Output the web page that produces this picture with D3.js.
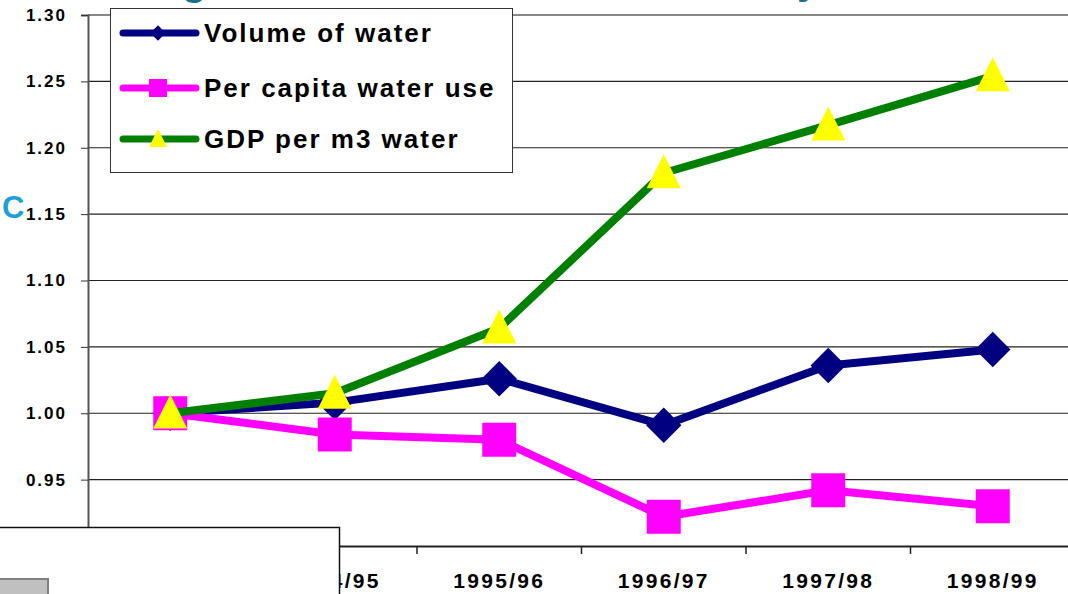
<!DOCTYPE html>
<html>
<head>
<meta charset="utf-8">
<script src="https://cdn.jsdelivr.net/npm/d3@7"></script>
<style>
  html, body { margin: 0; padding: 0; background: #fff; }
  svg { display: block; font-family: Arial, "Liberation Sans", sans-serif; }
</style>
</head>
<body>
<div id="chart"></div>
<script>
// chart data
const years = ['1993/94', '1994/95', '1995/96', '1996/97', '1997/98', '1998/99'];
const volume = [1.000, 1.008, 1.026, 0.991, 1.036, 1.048];
const perCapita = [1.000, 0.984, 0.980, 0.922, 0.942, 0.930];
const gdpPerM3 = [1.000, 1.015, 1.064, 1.181, 1.217, 1.254];
const yTicks = [0.90, 0.95, 1.00, 1.05, 1.10, 1.15, 1.20, 1.25, 1.30];

const series = [
    { name: 'Volume of water', values: volume, line: '#000080', fill: '#000080', shape: 'diamond' },
    { name: 'Per capita water use', values: perCapita, line: '#ff00ff', fill: '#ff00ff', shape: 'square' },
    { name: 'GDP per m3 water', values: gdpPerM3, line: '#008000', fill: '#ffff00', shape: 'triangle' }
];

const width = 1068, height = 594;
const plot = { left: 88, top: 15, right: 1075, bottom: 546 };

const svg = d3.select('#chart').append('svg')
    .attr('width', width)
    .attr('height', height);

const x = d3.scaleBand().domain(years).range([plot.left, plot.right]);
const y = d3.scaleLinear().domain([0.90, 1.30]).range([plot.bottom, plot.top]);

// title fragments cut off at the top of the slide
svg.append('text').attr('x', 182).attr('y', -5)
    .attr('font-size', 40).attr('font-weight', 'bold').attr('fill', '#1a6f8c').text('g');
svg.append('text').attr('x', 797).attr('y', -6)
    .attr('font-size', 40).attr('font-weight', 'bold').attr('fill', '#1a6f8c').text('y');

// gridlines
svg.append('g')
    .selectAll('line')
    .data(yTicks.filter(d => d > 0.90 && d < 1.30))
    .join('line')
    .attr('x1', plot.left).attr('x2', width)
    .attr('y1', d => y(d)).attr('y2', d => y(d))
    .attr('stroke', '#222').attr('stroke-width', 1.2);

// plot border top
svg.append('line')
    .attr('x1', plot.left).attr('x2', width)
    .attr('y1', y(1.30)).attr('y2', y(1.30))
    .attr('stroke', '#888').attr('stroke-width', 2);

// y axis
const yAxis = svg.append('g')
    .attr('transform', `translate(${plot.left},0)`)
    .call(d3.axisLeft(y).tickValues(yTicks).tickFormat(d3.format('.2f')).tickSize(7).tickPadding(14));
yAxis.select('.domain').attr('stroke', '#555').attr('stroke-width', 2);
yAxis.selectAll('.tick line').attr('stroke', '#333');
yAxis.selectAll('.tick text')
    .attr('font-size', 17).attr('font-weight', 'bold').attr('fill', '#000')
    .attr('font-family', 'Arial, "Liberation Sans", sans-serif')
    .attr('letter-spacing', 2);

// x axis
const xAxis = svg.append('g')
    .attr('transform', `translate(0,${plot.bottom})`)
    .call(d3.axisBottom(x).tickSize(0).tickPadding(27));
xAxis.select('.domain').attr('stroke', '#222').attr('stroke-width', 2);
xAxis.selectAll('.tick text')
    .attr('font-size', 21).attr('font-weight', 'bold').attr('fill', '#000')
    .attr('font-family', 'Arial, "Liberation Sans", sans-serif')
    .attr('letter-spacing', 2.3);
svg.append('g')
    .selectAll('line')
    .data(years)
    .join('line')
    .attr('x1', d => x(d)).attr('x2', d => x(d))
    .attr('y1', plot.bottom).attr('y2', plot.bottom + 8)
    .attr('stroke', '#222').attr('stroke-width', 1.5);

const cx = d => x(d) + x.bandwidth() / 2;

function marker(sel, shape, size) {
    if (shape === 'triangle') {
        return sel.attr('d', `M0,${-size * 0.55}L${size / 2},${size * 0.45}L${-size / 2},${size * 0.45}Z`);
    }
    // squares, and diamonds as rotated squares
    return sel.attr('d', `M${-size / 2},${-size / 2}h${size}v${size}h${-size}Z`);
}

// lines and markers
series.forEach(s => {
    const pts = years.map((yr, i) => [cx(yr), y(s.values[i])]);
    svg.append('path')
        .attr('d', d3.line()(pts))
        .attr('fill', 'none')
        .attr('stroke', s.line)
        .attr('stroke-width', 8)
        .attr('stroke-linejoin', 'round');
    svg.append('g')
        .selectAll('path')
        .data(pts)
        .join('path')
        .call(marker, s.shape, s.shape === 'diamond' ? 25 : 34)
        .attr('transform', d => `translate(${d[0]},${d[1]})` + (s.shape === 'diamond' ? ' rotate(45)' : ''))
        .attr('fill', s.fill);
});

// legend
const legend = svg.append('g');
legend.append('rect')
    .attr('x', 110.5).attr('y', 8.5).attr('width', 402).attr('height', 164)
    .attr('fill', '#fff').attr('stroke', '#333').attr('stroke-width', 1);
const legendY = [33, 88, 139];
series.forEach((s, i) => {
    const g = legend.append('g').attr('transform', `translate(0,${legendY[i]})`);
    g.append('line').attr('x1', 123).attr('x2', 196).attr('y1', 0).attr('y2', 0)
        .attr('stroke', s.line).attr('stroke-width', 7).attr('stroke-linecap', 'round');
    g.append('path')
        .call(marker, s.shape, s.shape === 'diamond' ? 11 : 18)
        .attr('transform', s.shape === 'diamond' ? 'translate(158,0) rotate(45)' : 'translate(158,0)')
        .attr('fill', s.fill);
    g.append('text').attr('x', 204).attr('y', 9)
        .attr('font-size', 26).attr('font-weight', 'bold').attr('fill', '#000')
        .attr('letter-spacing', 2)
        .text(s.name);
});

// stray overlapping slide elements
svg.append('text').attr('x', 2).attr('y', 218)
    .attr('font-size', 31).attr('font-weight', 'bold').attr('fill', '#1e9fdc').text('C');
svg.append('rect')
    .attr('x', -2).attr('y', 527.5).attr('width', 341.5).attr('height', 80)
    .attr('fill', '#fff').attr('stroke', '#111').attr('stroke-width', 1.5);
svg.append('rect')
    .attr('x', -2).attr('y', 579).attr('width', 50).attr('height', 20)
    .attr('fill', '#c0c0c0').attr('stroke', '#808080').attr('stroke-width', 2);
</script>
</body>
</html>
